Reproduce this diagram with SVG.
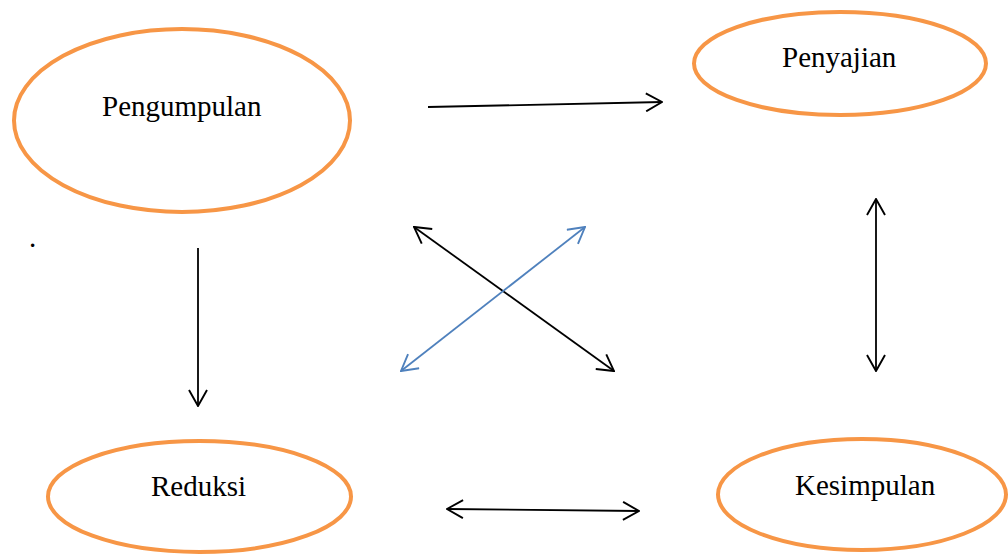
<svg xmlns="http://www.w3.org/2000/svg" width="1008" height="557" viewBox="0 0 1008 557">
<style>
.node{fill:#fff;stroke:#F79646;stroke-width:4}
.lbl{font-family:"Liberation Serif","Times New Roman",serif;font-size:29px;fill:#000}
.c{fill:none;stroke:#000;stroke-width:1.8}
.cb{fill:none;stroke:#4F81BD;stroke-width:1.8}
</style>
<defs>
<marker id="ah" viewBox="0 0 18 20" refX="17" refY="10" markerWidth="18" markerHeight="20" markerUnits="userSpaceOnUse" orient="auto-start-reverse">
<path d="M1,1 L17,10 L1,19" fill="none" stroke="#000" stroke-width="1.9"/>
</marker>
<marker id="ahb" viewBox="0 0 18 20" refX="17" refY="10" markerWidth="18" markerHeight="20" markerUnits="userSpaceOnUse" orient="auto-start-reverse">
<path d="M1,1 L17,10 L1,19" fill="none" stroke="#4F81BD" stroke-width="1.9"/>
</marker>
</defs>
<rect width="1008" height="557" fill="#fff"/>
<g id="pengumpulan">
<ellipse class="node" cx="182" cy="120.5" rx="168" ry="91.5"/>
<text class="lbl" x="102" y="116">Pengumpulan</text>
</g>
<g id="penyajian">
<ellipse class="node" cx="840" cy="63.5" rx="146" ry="51.5"/>
<text class="lbl" x="782" y="67">Penyajian</text>
</g>
<g id="reduksi">
<ellipse class="node" cx="199.5" cy="496.5" rx="151.5" ry="55.5"/>
<text class="lbl" x="151" y="496">Reduksi</text>
</g>
<g id="kesimpulan">
<ellipse class="node" cx="862" cy="494.5" rx="144" ry="55.5"/>
<text class="lbl" x="795" y="495">Kesimpulan</text>
</g>
<text class="lbl" x="29" y="247">.</text>
<g id="connectors">
<line class="c" x1="428" y1="107" x2="662" y2="102" marker-end="url(#ah)"/>
<line class="c" x1="198" y1="248" x2="198" y2="406" marker-end="url(#ah)"/>
<line class="c" x1="876" y1="199" x2="876" y2="371" marker-start="url(#ah)" marker-end="url(#ah)"/>
<line class="c" x1="447" y1="509" x2="639" y2="511" marker-start="url(#ah)" marker-end="url(#ah)"/>
<line class="c" x1="414" y1="227" x2="614" y2="371" marker-start="url(#ah)" marker-end="url(#ah)"/>
<line class="cb" x1="585" y1="227" x2="401" y2="371" marker-start="url(#ahb)" marker-end="url(#ahb)"/>
</g>
</svg>
